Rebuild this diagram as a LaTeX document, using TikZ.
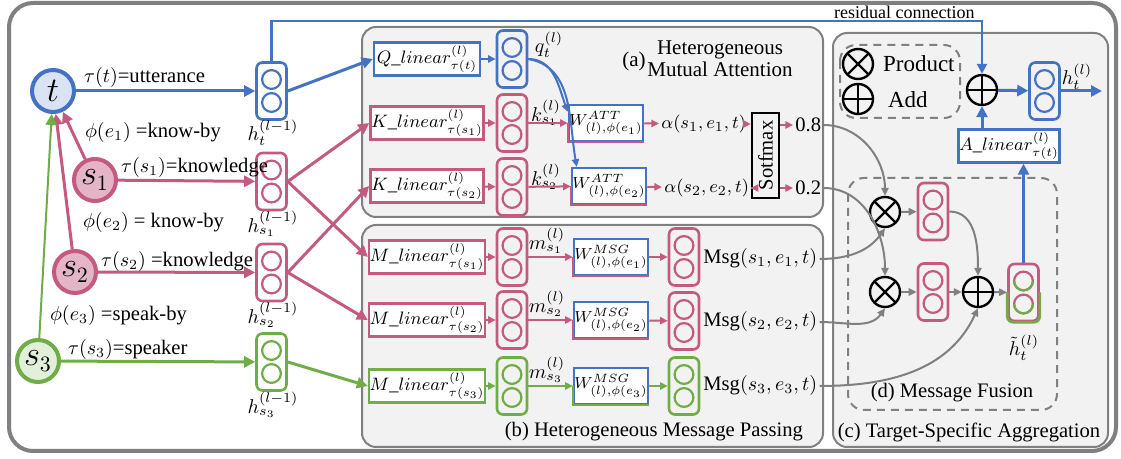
\documentclass[tikz,border=0pt]{standalone}
\usepackage{fontspec}
\setmainfont{Liberation Serif}
\usetikzlibrary{arrows.meta}

\definecolor{tblue}{RGB}{68,114,196}
\definecolor{tpink}{RGB}{196,90,128}
\definecolor{tgreen}{RGB}{112,173,71}
\definecolor{bgray}{RGB}{128,128,128}
\definecolor{lgray}{RGB}{242,242,242}

\tikzset{
  panel/.style={draw=bgray, line width=1pt, fill=lgray, rounded corners=7pt},
  dashpanel/.style={draw=bgray, line width=1pt, dash pattern=on 4pt off 3pt, rounded corners=8pt},
  gnode/.style={circle, draw=#1, line width=2pt, minimum size=21pt, inner sep=0pt, font=\fontsize{16}{16}\selectfont},
  vecbox/.style={draw=#1, line width=1.3pt, rounded corners=3pt, minimum width=15pt, minimum height=28.5pt, inner sep=0pt,
    path picture={\draw[#1, line width=1.1pt] ([yshift=5.75pt]path picture bounding box.center) circle (4.7pt)
      ([yshift=-5.75pt]path picture bounding box.center) circle (4.7pt);}},
  linbox/.style={draw=#1, line width=1.2pt, fill=white, minimum width=53pt, minimum height=16.5pt, inner sep=0.3pt,
    font=\fontsize{9.2}{10}\selectfont},
  wbox/.style={draw=tblue, line width=1.2pt, fill=white, minimum width=37pt, minimum height=18pt, inner sep=0.2pt,
    font=\fontsize{8.3}{9}\selectfont},
  mathlabel/.style={anchor=west, inner sep=1pt, font=\fontsize{9.4}{10}\selectfont},
  bigarrow/.style={draw=#1, line width=1.5pt, -{Triangle[length=5.5pt,width=5.5pt]}},
  smallarrow/.style={draw=#1, line width=1pt, -{Triangle[length=3.8pt,width=3.6pt]}},
  grayarrow/.style={draw=bgray, line width=1pt, -{Triangle[length=4pt,width=3.6pt]}},
  prodnode/.style={circle, draw, line width=1.2pt, minimum size=15pt, inner sep=0pt,
    path picture={\draw[line width=1.2pt] (path picture bounding box.north west) -- (path picture bounding box.south east)
      (path picture bounding box.north east) -- (path picture bounding box.south west);}},
  addnode/.style={circle, draw, line width=1.2pt, minimum size=15pt, inner sep=0pt,
    path picture={\draw[line width=1.2pt] (path picture bounding box.north) -- (path picture bounding box.south)
      (path picture bounding box.east) -- (path picture bounding box.west);}},
}

\begin{document}
\begin{tikzpicture}[x=0.5pt, y=-0.5pt, font=\fontsize{10.3}{12}\selectfont]
  \useasboundingbox (0,0) rectangle (1121,459);
  \draw[line width=2pt, bgray, rounded corners=12pt] (9,3) rectangle (1116,451);

  % panels
  \draw[panel] (362,27) rectangle (823,217);
  \draw[panel] (362,225) rectangle (823,447);
  \draw[panel] (833,33) rectangle (1108,447);
  \draw[dashpanel] (840,45) rectangle (960,118);
  \draw[dashpanel] (848,178) rectangle (1057,410);

  % graph
  \node[gnode=tblue, fill=tblue!20] (t) at (53,91) {$t$};
  \node[gnode=tpink, fill=tpink!45] (s1) at (95,180) {$s_1$};
  \node[gnode=tpink, fill=tpink!45] (s2) at (75,272) {$s_2$};
  \node[gnode=tgreen, fill=tgreen!20] (s3) at (38,361) {$s_3$};

  \node[vecbox=tblue] (ht) at (271.5,91) {};
  \node[vecbox=tpink] (hs1) at (271.5,181.5) {};
  \node[vecbox=tpink] (hs2) at (271.5,272.5) {};
  \node[vecbox=tgreen] (hs3) at (271.5,362) {};
  \node (lht) at (273,133) {$h_t^{(l-1)}$};
  \node (lhs1) at (273,224) {$h_{s_1}^{(l-1)}$};
  \node (lhs2) at (273,315) {$h_{s_2}^{(l-1)}$};
  \node (lhs3) at (273,405) {$h_{s_3}^{(l-1)}$};

  \draw[bigarrow=tblue] (t) -- (ht);
  \draw[bigarrow=tpink] (s1) -- (t);
  \draw[bigarrow=tpink] (s2) -- (t);
  \draw[draw=tgreen, line width=1pt, -{Triangle[length=5.5pt,width=5.5pt]}] (s3) -- (t);
  \draw[bigarrow=tpink] (s1) -- (hs1);
  \draw[bigarrow=tpink] (s2) -- (hs2);
  \draw[bigarrow=tgreen] (s3) -- (hs3);

  \node[anchor=west] at (77,78) {$\tau(t)$=utterance};
  \node[anchor=west] at (78,133) {$\phi(e_1)$ =know-by};
  \node[anchor=west] at (114,168) {$\tau(s_1)$=knowledge};
  \node[anchor=west] at (76,223) {$\phi(e_2)$ = know-by};
  \node[anchor=west] at (94,262) {$\tau(s_2)$ =knowledge};
  \node[anchor=west] at (43,316) {$\phi(e_3)$ =speak-by};
  \node[anchor=west] at (61,350) {$\tau(s_3)$=speaker};

  % (a) heterogeneous mutual attention
  \node[linbox=tblue] (ql) at (427,59) {$Q\_linear^{(l)}_{\tau(t)}$};
  \node[linbox=tpink] (kl1) at (427,123) {$K\_linear^{(l)}_{\tau(s_1)}$};
  \node[linbox=tpink] (kl2) at (427,186) {$K\_linear^{(l)}_{\tau(s_2)}$};
  \node[vecbox=tblue] (qv) at (512,59) {};
  \node[vecbox=tpink] (kv1) at (512,123) {};
  \node[vecbox=tpink] (kv2) at (512,187) {};
  \node at (549,45) {$q_t^{(l)}$};
  \node at (546,113) {$k_{s_1}^{(l)}$};
  \node at (546,177) {$k_{s_2}^{(l)}$};
  \node[wbox] (wa1) at (606,123) {$W^{ATT}_{(l),\phi(e_1)}$};
  \node[wbox] (wa2) at (609,186) {$W^{ATT}_{(l),\phi(e_2)}$};
  \draw[tpink, line width=1.2pt] (wa1.west) -- (wa1.south west) -- (wa1.south east);
  \draw[tpink, line width=1.2pt] (wa2.west) -- (wa2.south west) -- (wa2.south east);
  \node[mathlabel] (al1) at (659,124) {$\alpha(s_1,e_1,t)$};
  \node[mathlabel] (al2) at (662,188) {$\alpha(s_2,e_2,t)$};
  \node[draw, line width=1.2pt, rotate=90, minimum width=42.5pt, minimum height=13.5pt, inner sep=0pt] (sm) at (765.5,155.5) {Sotfmax};
  \node[anchor=west, inner sep=1pt] (p8) at (793,125) {0.8};
  \node[anchor=west, inner sep=1pt] (p2) at (793,188) {0.2};
  \node[align=center, font=\fontsize{10.5}{11}\selectfont] at (720,59) {Heterogeneous\\Mutual Attention};
  \node[font=\fontsize{10.5}{11}\selectfont] at (634,61) {(a)};

  \draw[smallarrow=tblue] (ql) -- (qv);
  \draw[smallarrow=tpink] (kl1) -- (kv1);
  \draw[smallarrow=tpink] (kl2) -- (kv2);
  \draw[smallarrow=tpink] (kv1) -- (wa1);
  \draw[smallarrow=tpink] (kv2) -- (wa2);
  \draw[smallarrow=tblue] (qv.east) to[out=0, in=110] ([yshift=-4pt]wa1.north west);
  \draw[smallarrow=tblue] (qv.east) to[out=-10, in=100] ([xshift=3pt]wa2.north west);
  \draw[smallarrow=tpink] (wa1) -- (al1);
  \draw[smallarrow=tpink] (wa2) -- (al2);
  \draw[smallarrow=tpink] (al1.east) -- (al1.east -| sm.north);
  \draw[smallarrow=tpink] (al2.east) -- (al2.east -| sm.north);
  \draw[smallarrow=tpink] (p8.west -| sm.south) -- (p8.west);
  \draw[smallarrow=tpink] (p2.west -| sm.south) -- (p2.west);

  % (b) heterogeneous message passing
  \node[linbox=tpink] (ml1) at (427,257) {$M\_linear^{(l)}_{\tau(s_1)}$};
  \node[linbox=tpink] (ml2) at (427,320) {$M\_linear^{(l)}_{\tau(s_2)}$};
  \node[linbox=tgreen] (ml3) at (427,386) {$M\_linear^{(l)}_{\tau(s_3)}$};
  \node[vecbox=tpink] (mv1) at (512,257) {};
  \node[vecbox=tpink] (mv2) at (512,320) {};
  \node[vecbox=tgreen] (mv3) at (512,386) {};
  \node at (547,241) {$m_{s_1}^{(l)}$};
  \node at (547,304) {$m_{s_2}^{(l)}$};
  \node at (547,370) {$m_{s_3}^{(l)}$};
  \node[wbox] (wm1) at (611,257) {$W^{MSG}_{(l),\phi(e_1)}$};
  \node[wbox] (wm2) at (611,320) {$W^{MSG}_{(l),\phi(e_2)}$};
  \node[wbox] (wm3) at (611,386) {$W^{MSG}_{(l),\phi(e_3)}$};
  \draw[tpink, line width=1.2pt] (wm1.west) -- (wm1.south west) -- (wm1.south east);
  \draw[tpink, line width=1.2pt] (wm2.west) -- (wm2.south west) -- (wm2.south east);
  \draw[tgreen, line width=1.2pt] (wm3.west) -- (wm3.south west) -- (wm3.south east);
  \node[vecbox=tpink] (ov1) at (684,257) {};
  \node[vecbox=tpink] (ov2) at (684,321) {};
  \node[vecbox=tgreen] (ov3) at (684,386) {};
  \node[mathlabel] (msg1) at (701,259) {\fontsize{10.3}{12}\selectfont Msg$(s_1,e_1,t)$};
  \node[mathlabel] (msg2) at (701,322) {\fontsize{10.3}{12}\selectfont Msg$(s_2,e_2,t)$};
  \node[mathlabel] (msg3) at (701,386) {\fontsize{10.3}{12}\selectfont Msg$(s_3,e_3,t)$};
  \node[anchor=east] at (810,432) {(b) Heterogeneous Message Passing};

  \draw[smallarrow=tpink] (ml1) -- (mv1);
  \draw[smallarrow=tpink] (ml2) -- (mv2);
  \draw[smallarrow=tgreen] (ml3) -- (mv3);
  \draw[smallarrow=tpink] (mv1) -- (wm1);
  \draw[smallarrow=tpink] (mv2) -- (wm2);
  \draw[smallarrow=tgreen] (mv3) -- (wm3);
  \draw[smallarrow=tpink] (wm1) -- (ov1);
  \draw[smallarrow=tpink] (wm2) -- (ov2);
  \draw[smallarrow=tgreen] (wm3) -- (ov3);

  % inputs into (a) and (b)
  \draw[bigarrow=tblue] (ht.east) -- (ql.west);
  \draw[bigarrow=tpink] (hs1.east) -- (kl1.west);
  \draw[bigarrow=tpink] (hs1.east) -- (ml1.west);
  \draw[bigarrow=tpink] (hs2.east) -- (kl2.west);
  \draw[bigarrow=tpink] (hs2.east) -- (ml2.west);
  \draw[bigarrow=tgreen] (hs3.east) -- (ml3.west);

  % (c) target-specific aggregation
  \node[prodnode] (lp) at (858,64) {};
  \node[addnode] (la) at (858,99) {};
  \node[anchor=west, font=\fontsize{11.5}{12}\selectfont] at (876,64) {Product};
  \node[anchor=west, font=\fontsize{11.5}{12}\selectfont] at (881,100) {Add};

  \node[addnode] (opa) at (982,90) {};
  \node[vecbox=tblue] (hout) at (1044.5,91) {};
  \coordinate (oend) at (1102,91);
  \node at (1077,77) {$h_t^{(l)}$};
  \node[linbox=tblue, minimum width=50.5pt] (alin) at (1009,146) {$A\_linear^{(l)}_{\tau(t)}$};
  \coordinate (rtop) at (982,21);
  \draw[draw=tblue, line width=1.3pt, -{Triangle[length=5pt,width=5pt]}] (ht.north) |- (rtop) -- (opa.north);
  \node[anchor=base east, inner sep=0pt, font=\fontsize{9}{10}\selectfont] at (975,18.5) {residual connection};
  \draw[bigarrow=tblue] (opa) -- (hout);
  \draw[bigarrow=tblue] (hout.east) -- (oend);
  \draw[bigarrow=tblue] (alin.north -| opa) -- (opa.south);

  % (d) message fusion
  \node[prodnode] (ot1) at (885,212) {};
  \node[prodnode] (ot2) at (885,292) {};
  \node[vecbox=tpink] (fv1) at (933,211.5) {};
  \node[vecbox=tpink] (fv2) at (933,292) {};
  \node[addnode] (opf) at (978,292) {};
  \node[vecbox=tpink] (htil) at (1023.5,292.5) {};
  \draw[tgreen, line width=1.1pt] ([xshift=-4.7pt, yshift=5.75pt]htil.center) arc (180:360:4.7pt);
  \draw[tgreen, line width=1.1pt] ([xshift=-4.7pt, yshift=-5.75pt]htil.center) arc (180:360:4.7pt);
  \draw[tgreen, line width=1.3pt, rounded corners=3pt] (htil.west) -- (htil.south west) -- (htil.south east) -- (htil.east);
  \node at (1024,348) {$\tilde{h}_t^{(l)}$};
  \node at (952,393) {(d) Message Fusion};
  \node at (969,432) {(c) Target-Specific Aggregation};

  \draw[grayarrow] (p8.east) to[out=0, in=90] (ot1.north);
  \draw[grayarrow] (p2.east) to[out=0, in=90] (ot2.north);
  \draw[grayarrow] (msg1.east) to[out=0, in=-125] (ot1.south);
  \draw[grayarrow] (msg2.east) to[out=0, in=-125] (ot2.south);
  \draw[grayarrow] (msg3.east) to[out=0, in=-115] (opf.south);
  \draw[grayarrow] (ot1) -- (fv1);
  \draw[grayarrow] (ot2) -- (fv2);
  \draw[grayarrow] (fv1.east) to[out=0, in=90] (opf.north);
  \draw[grayarrow] (fv2) -- (opf);
  \draw[grayarrow] (opf) -- (htil);
  \draw[bigarrow=tblue] (htil.north) -- (htil.north |- alin.south);
\end{tikzpicture}
\end{document}
